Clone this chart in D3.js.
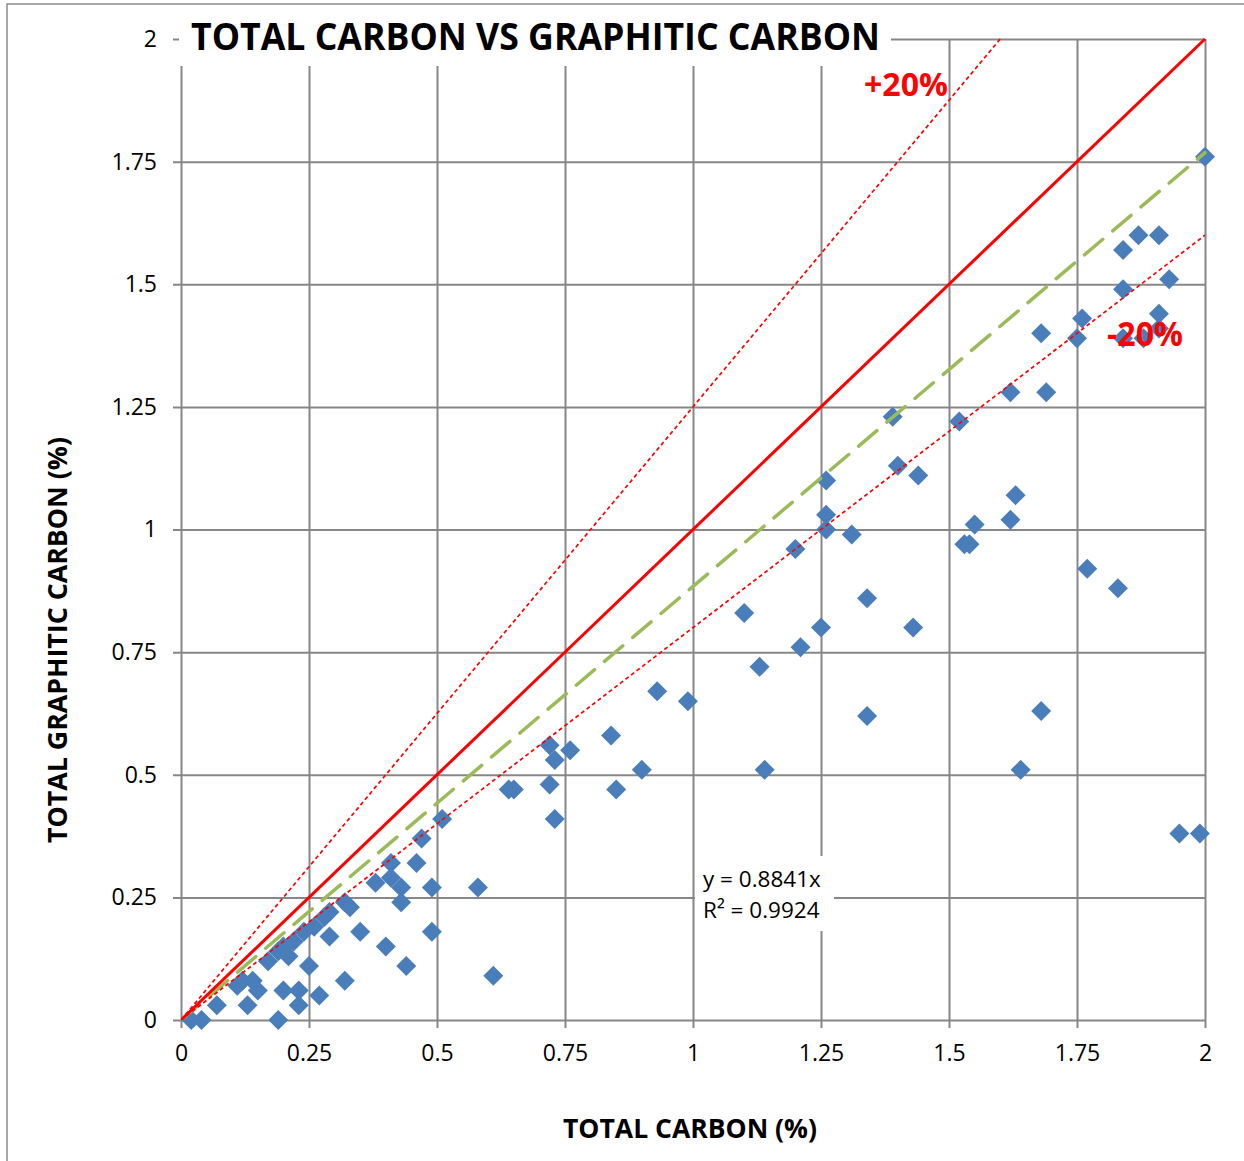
<!DOCTYPE html>
<html>
<head>
<meta charset="utf-8">
<script src="https://cdn.jsdelivr.net/npm/d3@7"></script>
<style>
  html, body { margin: 0; padding: 0; background: #ffffff; }
  svg { display: block; }
</style>
</head>
<body>
<script>
// Sample measurements: total carbon (%) vs graphitic carbon (%)
const totalCarbon = [
  0.02, 0.04, 0.07, 0.11, 0.12, 0.14, 0.13, 0.15, 0.17, 0.19,
  0.19, 0.20, 0.20, 0.21, 0.22, 0.23, 0.23, 0.24, 0.25, 0.26,
  0.27, 0.28, 0.29, 0.29, 0.32, 0.33, 0.32, 0.35, 0.38, 0.40,
  0.41, 0.41, 0.43, 0.43, 0.44, 0.46, 0.47, 0.49, 0.49, 0.51,
  0.58, 0.61, 0.64, 0.65, 0.72, 0.72, 0.73, 0.73, 0.76, 0.84,
  0.85, 0.90, 0.93, 0.99, 1.10, 1.13, 1.14, 1.20, 1.21, 1.25,
  1.26, 1.26, 1.26, 1.31, 1.34, 1.34, 1.39, 1.40, 1.43, 1.44,
  1.52, 1.53, 1.54, 1.55, 1.62, 1.62, 1.63, 1.64, 1.68, 1.68,
  1.69, 1.75, 1.76, 1.77, 1.83, 1.84, 1.84, 1.84, 1.87, 1.88,
  1.91, 1.91, 1.91, 1.93, 1.95, 1.99, 2.00
];
const graphiticCarbon = [
  0.00, 0.00, 0.03, 0.07, 0.08, 0.08, 0.03, 0.06, 0.12, 0.00,
  0.14, 0.06, 0.15, 0.13, 0.16, 0.06, 0.03, 0.18, 0.11, 0.19,
  0.05, 0.21, 0.22, 0.17, 0.24, 0.23, 0.08, 0.18, 0.28, 0.15,
  0.32, 0.29, 0.27, 0.24, 0.11, 0.32, 0.37, 0.27, 0.18, 0.41,
  0.27, 0.09, 0.47, 0.47, 0.48, 0.56, 0.53, 0.41, 0.55, 0.58,
  0.47, 0.51, 0.67, 0.65, 0.83, 0.72, 0.51, 0.96, 0.76, 0.80,
  1.10, 1.03, 1.00, 0.99, 0.86, 0.62, 1.23, 1.13, 0.80, 1.11,
  1.22, 0.97, 0.97, 1.01, 1.28, 1.02, 1.07, 0.51, 1.40, 0.63,
  1.28, 1.39, 1.43, 0.92, 0.88, 1.57, 1.49, 1.39, 1.60, 1.39,
  1.60, 1.44, 1.41, 1.51, 0.38, 0.38, 1.76
];

const xTickValues = [0, 0.25, 0.5, 0.75, 1, 1.25, 1.5, 1.75, 2];
const yTickValues = [0, 0.25, 0.5, 0.75, 1, 1.25, 1.5, 1.75, 2];
const xTickLabels = ["0", "0.25", "0.5", "0.75", "1", "1.25", "1.5", "1.75", "2"];
const yTickLabels = ["0", "0.25", "0.5", "0.75", "1", "1.25", "1.5", "1.75", "2"];

// Fitted trend through the origin and the reference lines
const trendSlope = 0.8841;
const trendR2 = 0.9924;
const parityLine = [[0, 0], [2, 2]];
const upperBand = [[0, 0], [1.6, 2]];   // +20%
const lowerBand = [[0, 0], [2, 1.6]];   // -20%
const trendLine = [[0, 0], [2, 2 * trendSlope]];

const chartTitle = "TOTAL CARBON VS GRAPHITIC CARBON";
const xTitle = "TOTAL CARBON (%)";
const yTitle = "TOTAL GRAPHITIC CARBON (%)";

const W = 1244, H = 1161;
const plot = { left: 181, right: 1205, top: 39, bottom: 1020 };
const FONT = "'Open Sans', 'Noto Sans', sans-serif";
const GRID = "#878787";

const svg = d3.select("body").append("svg")
  .attr("width", W).attr("height", H)
  .attr("viewBox", `0 0 ${W} ${H}`);

svg.append("rect").attr("width", W).attr("height", H).attr("fill", "#fff");

// outer chart frame
svg.append("path")
  .attr("d", `M7,${H} L7,4 L${W},4`)
  .attr("fill", "none").attr("stroke", "#8c8c8c").attr("stroke-width", 1.5);

const x = d3.scaleLinear().domain([0, 2]).range([plot.left, plot.right]);
const y = d3.scaleLinear().domain([0, 2]).range([plot.bottom, plot.top]);
const plotH = plot.bottom - plot.top;
const plotW = plot.right - plot.left;

// vertical grid + x tick labels
const xAxis = svg.append("g")
  .attr("transform", `translate(0,${plot.bottom})`)
  .call(d3.axisBottom(x)
    .tickValues(xTickValues)
    .tickFormat((d, i) => xTickLabels[i])
    .tickSizeInner(-plotH)
    .tickSizeOuter(0)
    .tickPadding(25));
xAxis.select(".domain").remove();
xAxis.selectAll(".tick line")
  .attr("y1", 8)
  .attr("stroke", GRID).attr("stroke-width", 2);
xAxis.selectAll(".tick text")
  .attr("font-family", FONT).attr("font-size", 23).attr("fill", "#000");

// horizontal grid + y tick labels
const yAxis = svg.append("g")
  .attr("transform", `translate(${plot.left},0)`)
  .call(d3.axisLeft(y)
    .tickValues(yTickValues)
    .tickFormat((d, i) => yTickLabels[i])
    .tickSizeInner(-plotW)
    .tickSizeOuter(0)
    .tickPadding(24));
yAxis.select(".domain").remove();
yAxis.selectAll(".tick line")
  .attr("x1", -8)
  .attr("stroke", GRID).attr("stroke-width", 2);
yAxis.selectAll(".tick text")
  .attr("font-family", FONT).attr("font-size", 23).attr("fill", "#000");

// clip for the reference lines
svg.append("clipPath").attr("id", "plot-clip")
  .append("rect")
  .attr("x", plot.left).attr("y", plot.top - 2)
  .attr("width", plotW + 2).attr("height", plotH + 2);

// data points as rotated squares
const points = totalCarbon.map((v, i) => ({ tc: v, gc: graphiticCarbon[i] }));
svg.append("g").selectAll("path")
  .data(points)
  .join("path")
  .attr("d", d3.symbol(d3.symbolSquare, 200))
  .attr("transform", d => `translate(${x(d.tc)},${y(d.gc)}) rotate(45)`)
  .attr("fill", "#4a7ebb");

const line = d3.line().x(d => x(d[0])).y(d => y(d[1]));
const lines = svg.append("g").attr("clip-path", "url(#plot-clip)");

lines.append("path").datum(trendLine)
  .attr("d", line).attr("fill", "none")
  .attr("stroke", "#9bbb59").attr("stroke-width", 3.5)
  .attr("stroke-dasharray", "24,13").attr("stroke-linecap", "round");

lines.append("path").datum(upperBand)
  .attr("d", line).attr("fill", "none")
  .attr("stroke", "#ff0000").attr("stroke-width", 1.7)
  .attr("stroke-dasharray", "4,3");

lines.append("path").datum(lowerBand)
  .attr("d", line).attr("fill", "none")
  .attr("stroke", "#ff0000").attr("stroke-width", 1.7)
  .attr("stroke-dasharray", "4,3");

lines.append("path").datum(parityLine)
  .attr("d", line).attr("fill", "none")
  .attr("stroke", "#ff0000").attr("stroke-width", 3);

// band labels
svg.append("text")
  .attr("x", 864).attr("y", 96)
  .attr("font-family", FONT).attr("font-weight", 700).attr("font-size", 33)
  .attr("fill", "#ff0000")
  .attr("textLength", 84).attr("lengthAdjust", "spacingAndGlyphs")
  .text("+20%");
svg.append("text")
  .attr("x", 1107).attr("y", 346)
  .attr("font-family", FONT).attr("font-weight", 700).attr("font-size", 34)
  .attr("fill", "#ff0000")
  .attr("textLength", 76).attr("lengthAdjust", "spacingAndGlyphs")
  .text("-20%");

// trendline equation box
const eq = svg.append("g");
eq.append("rect")
  .attr("x", 695).attr("y", 856).attr("width", 139).attr("height", 75)
  .attr("fill", "#fff");
eq.append("text")
  .attr("x", 703).attr("y", 887)
  .attr("font-family", FONT).attr("font-size", 22.5).attr("fill", "#000")
  .text(`y = ${trendSlope}x`);
eq.append("text")
  .attr("x", 703).attr("y", 918)
  .attr("font-family", FONT).attr("font-size", 22.5).attr("fill", "#000")
  .text(`R\u00B2 = ${trendR2}`);

// chart title on a white backing
svg.append("rect")
  .attr("x", 179).attr("y", 10).attr("width", 712).attr("height", 56)
  .attr("fill", "#fff");
svg.append("text")
  .attr("x", 191).attr("y", 50)
  .attr("font-family", FONT).attr("font-weight", 700).attr("font-size", 37)
  .attr("fill", "#000")
  .attr("textLength", 689).attr("lengthAdjust", "spacingAndGlyphs")
  .text(chartTitle);

// axis titles
svg.append("text")
  .attr("x", 690).attr("y", 1138)
  .attr("text-anchor", "middle")
  .attr("font-family", FONT).attr("font-weight", 700).attr("font-size", 26)
  .attr("fill", "#000")
  .attr("textLength", 254).attr("lengthAdjust", "spacingAndGlyphs")
  .text(xTitle);
svg.append("text")
  .attr("transform", "translate(67,640) rotate(-90)")
  .attr("text-anchor", "middle")
  .attr("font-family", FONT).attr("font-weight", 700).attr("font-size", 26)
  .attr("fill", "#000")
  .attr("textLength", 406).attr("lengthAdjust", "spacingAndGlyphs")
  .text(yTitle);
</script>
</body>
</html>
